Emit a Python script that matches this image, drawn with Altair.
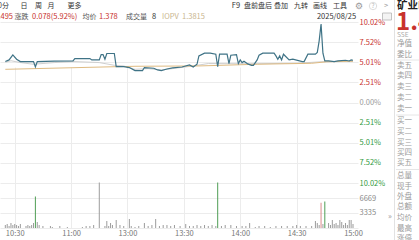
import altair as alt
import pandas as pd

# ---------------- data (trading minutes since 9:30, lunch break removed) ----------------
price_min = [55, 57, 59, 61, 63, 70, 71, 72, 81, 91, 92, 100, 101, 105, 106, 107, 108, 109,
             113, 114, 118, 121, 124, 128, 129, 134, 136, 138, 141, 144, 149, 153, 155, 157,
             158, 161, 164, 167, 168, 169, 173, 174, 175, 178, 179, 180, 181, 182, 184, 186,
             187, 189, 190, 192, 198, 199, 200, 201, 202, 203, 206, 208, 213, 214, 216, 220,
             221, 222, 223, 224, 225, 227, 230, 232, 236, 238, 239, 240]
price_pct = [5.10, 5.30, 5.92, 5.39, 5.10, 5.10, 4.42, 5.10, 5.14, 5.17, 5.47, 5.47, 5.30, 5.30,
             5.97, 5.97, 5.39, 6.10, 6.10, 4.47, 4.47, 4.35, 3.97, 3.97, 4.35, 4.26, 4.05, 3.97,
             4.17, 4.30, 4.42, 4.67, 4.42, 4.76, 5.80, 6.14, 6.14, 6.01, 4.47, 6.01, 6.01, 4.85,
             5.89, 5.97, 4.85, 5.30, 4.97, 5.14, 4.80, 4.63, 4.63, 5.30, 5.89, 6.14, 6.14, 5.80,
             5.39, 5.80, 5.30, 6.01, 5.30, 5.39, 5.10, 5.10, 6.01, 6.01, 6.22, 7.68, 9.77, 6.14,
             5.17, 5.17, 5.10, 5.17, 5.26, 5.17, 5.30, 5.26]

avg_min = [55, 107, 124, 158, 189, 218, 226, 240]
avg_pct = [4.13, 4.42, 4.51, 4.55, 4.76, 4.88, 5.07, 5.14]

iopv_min = [55, 58, 63, 70, 81, 91, 105, 113, 118, 124, 131, 138, 144, 155, 163, 184, 210, 223, 240]
iopv_pct = [5.01, 5.20, 4.97, 4.76, 4.97, 5.10, 4.97, 4.63, 4.55, 4.13, 4.22, 4.05, 4.22, 4.55,
            4.85, 4.82, 4.88, 5.07, 5.14]

vol_min = [55, 56, 57, 58, 59, 60, 61, 62, 63, 66, 67, 68, 69, 70, 71, 72, 73, 75, 79, 80, 84, 88,
           96, 98, 100, 102, 105, 108, 109, 110, 111, 112, 114, 116, 118, 121, 122, 124, 126, 129,
           131, 133, 135, 137, 139, 141, 143, 145, 148, 151, 153, 155, 157, 159, 161, 163, 165,
           167, 168, 170, 172, 175, 178, 181, 183, 185, 188, 190, 193, 196, 199, 202, 205, 208,
           210, 212, 215, 218, 220, 221, 222, 223, 224, 225, 227, 228, 229, 230, 231, 232, 233,
           234, 235, 236, 237, 238, 239, 240]
vol_val = [670, 890, 450, 1100, 670, 890, 670, 450, 890, 450, 670, 450, 670, 1100, 7000, 1330, 670,
           450, 450, 220, 450, 220, 220, 450, 450, 670, 10100, 450, 1560, 450, 1100, 670, 1780, 670,
           450, 2000, 450, 220, 450, 1100, 450, 670, 2000, 450, 670, 670, 450, 670, 450, 890, 450,
           450, 670, 450, 670, 450, 670, 450, 10100, 450, 670, 670, 450, 450, 450, 1100, 220, 450,
           450, 220, 450, 450, 450, 450, 670, 450, 450, 450, 1560, 1100, 670, 5600, 890, 5900, 1100,
           670, 1780, 890, 1100, 670, 1780, 1330, 670, 1100, 670, 1780, 1780, 890]
vol_dir = ["n"] * len(vol_min)
for _m, _d in [(71, "d"), (168, "d"), (223, "u"), (225, "d")]:
    vol_dir[vol_min.index(_m)] = _d

time_ticks = [60, 90, 120, 150, 180, 210, 240]
time_labels = ["10:30", "11:00", "13:00", "13:30", "14:00", "14:30", "15:00"]
pct_ticks = [-10.02, -7.52, -5.01, -2.51, 0.0, 2.51, 5.01, 7.52, 10.02]
vol_ticks = [0, 3335, 6669]

panel_labels = ["净值", "委比", "卖五", "卖四", "卖三", "卖二", "卖一", "买一", "买二", "买三",
                "买四", "买五", "总量", "现手", "外盘", "总额", "均价", "最高", "涨停"]

# ---------------- style ----------------
FONT = "Noto Sans CJK SC"
RED = "#c8322d"
GREEN = "#2f9a3c"
GRAY = "#9a9a9a"
GRID = "#ececec"
TOP = 22
W, H = 358, 206
CJK = 7
NUM = 7.5

xscale = alt.Scale(domain=[54.83, 240], nice=False, zero=False)
label_expr = "[" + ",".join(f"'{t}'" for t in time_labels) + "][indexof([" + \
    ",".join(str(t) for t in time_ticks) + "], datum.value)]"
X = alt.X("m:Q", scale=xscale, title=None,
          axis=alt.Axis(values=time_ticks, labelExpr=label_expr, grid=True,
                        gridColor={"condition": {"test": "datum.value == 240", "value": "transparent"},
                                   "value": GRID},
                        ticks=False, domain=False, labelPadding=1, labelColor="#777",
                        labelFontSize=7.5, labelFont=FONT, labelOverlap=False))

YP = alt.Y("p:Q", title=None,
           scale=alt.Scale(domain=[-10.02, 10.02], range=[161, 0], nice=False, zero=False),
           axis=alt.Axis(orient="right", values=pct_ticks,
                         labelExpr="format(abs(datum.value), '.2f') + '%'",
                         labelColor={"condition": [{"test": "datum.value > 0", "value": RED},
                                                   {"test": "datum.value < 0", "value": GREEN}],
                                     "value": GRAY},
                         grid=True, gridColor=GRID, ticks=False, domain=False, labelPadding=1,
                         labelFontSize=7.5, labelFont=FONT, labelOverlap=False))

YV = alt.Y("v:Q", title=None,
           scale=alt.Scale(domain=[0, 10004], range=[206, 161], nice=False, zero=True),
           axis=alt.Axis(orient="right", values=vol_ticks,
                         labelExpr="datum.value == 0 ? '' : format(datum.value, 'd')",
                         grid=True, gridColor=GRID, ticks=False, domain=False, labelPadding=1,
                         labelColor="#8a8a8a", labelFontSize=7.5, labelFont=FONT, labelOverlap=False))

price_df = pd.DataFrame({"m": price_min, "p": price_pct})
avg_df = pd.DataFrame({"m": avg_min, "p": avg_pct})
iopv_df = pd.DataFrame({"m": iopv_min, "p": iopv_pct})
vol_df = pd.DataFrame({"m": vol_min, "v": vol_val, "d": vol_dir})

lines = alt.layer(
    alt.Chart(iopv_df).mark_line(color="#cfcfcf", strokeWidth=1).encode(x=X, y=YP),
    alt.Chart(avg_df).mark_line(color="#dfbb82", strokeWidth=1).encode(x=X, y=YP),
    alt.Chart(price_df).mark_line(color="#3f7386", strokeWidth=1.2).encode(x=X, y=YP),
)

vol = alt.Chart(vol_df).mark_bar(size=1).encode(
    x=X, y=YV,
    color=alt.Color("d:N", scale=alt.Scale(domain=["n", "u", "d"],
                                           range=["#9c9c9c", "#d98a8a", "#4f9e55"]), legend=None))


def txt(s, x, y, color, size=CJK, weight="normal", align="left", font=FONT):
    return alt.Chart(pd.DataFrame({"t": [s]})).mark_text(
        align=align, baseline="middle", color=color, fontSize=size, fontWeight=weight, font=font
    ).encode(x=alt.value(x), y=alt.value(y - TOP), text="t:N")


def hline(x1, x2, y, color="#e6e6e6"):
    return alt.Chart(pd.DataFrame({"a": [0]})).mark_rule(color=color, strokeWidth=1).encode(
        x=alt.value(x1), x2=alt.value(x2), y=alt.value(y - TOP))


def vline(x, y1, y2, color="#e2e2e2"):
    return alt.Chart(pd.DataFrame({"a": [0]})).mark_rule(color=color, strokeWidth=1).encode(
        x=alt.value(x), y=alt.value(y1 - TOP), y2=alt.value(y2 - TOP))


deco = [
    # header row 1
    txt("60分", 9, 6, "#333", align="right"),
    txt("日", 24, 6, "#333", align="center"),
    txt("周", 38.5, 6, "#333", align="center"),
    txt("月", 51, 6, "#333", align="center"),
    txt("更多", 74.5, 6, "#333", align="center"),
    txt("F9", 236, 6, "#333", size=NUM, align="center"),
    txt("盘前盘后", 258, 6, "#333", align="center"),
    txt("叠加", 281, 6, "#333", align="center"),
    txt("九转", 301, 6, "#333", align="center"),
    txt("画线", 320, 6, "#333", align="center"),
    txt("工具", 340, 6, "#333", align="center"),
    txt("⚙", 359, 6, "#999", size=9, align="center", font="DejaVu Sans"),
    txt("?", 373, 6, "#bbb", size=6.5, align="center"),
    alt.Chart(pd.DataFrame({"a": [0]})).mark_point(shape="circle", size=55, color="#c4c4c4",
                                                   strokeWidth=0.8).encode(
        x=alt.value(373), y=alt.value(6 - TOP)),
    txt(">", 386, 6, "#999", size=NUM, align="center"),
    # header row 2
    txt("1.495", 13, 17, RED, size=NUM, align="right"),
    txt("涨跌", 21.5, 17, "#555", align="center"),
    txt("0.078(5.92%)", 32, 17, RED, size=NUM),
    txt("均价", 89.5, 17, "#555", align="center"),
    txt("1.378", 99, 17, RED, size=NUM),
    txt("成交量", 136.5, 17, "#555", align="center"),
    txt("8", 154, 17, "#333", size=NUM, align="center"),
    txt("IOPV", 162, 17, "#c9b58d", size=NUM),
    txt("1.3815", 182, 17, "#c9b58d", size=NUM),
    txt("2025/08/25", 336.5, 17, "#333", size=NUM, align="center"),
    alt.Chart(pd.DataFrame({"a": [0]})).mark_rect(fill="#f4f4f4", stroke="#b5b5b5",
                                                  strokeWidth=0.8).encode(
        x=alt.value(382.5), x2=alt.value(391.5), y=alt.value(13 - TOP), y2=alt.value(20 - TOP)),
    # right quote panel
    vline(394.5, 0, 240),
    txt("矿业ETF", 397, 6, "#222", size=10.5, weight="bold"),
    txt("1.495", 396, 23, RED, size=24, weight="bold"),
    txt("SSE", 397, 35, "#aaa", size=6.5),
    hline(396, 419, 60),
    hline(396, 419, 115),
    hline(396, 419, 169.5),
    txt("»", 390, 217, "#999", size=8, align="center"),
]
panel_y = [44, 55, 66, 76, 87, 98, 109, 121, 132, 143, 153, 163, 176, 187, 197, 207, 218, 229, 239]
for lab, yy in zip(panel_labels, panel_y):
    deco.append(txt(lab, 397, yy, "#9a9a9a", size=7.5))

chart = alt.layer(lines, vol, *deco).resolve_scale(y="independent").properties(
    width=W, height=H,
    padding={"left": 0, "top": TOP, "right": 419 - W, "bottom": 240 - TOP - H},
    autosize=alt.AutoSizeParams(type="none"),
    background="white",
).configure_view(stroke=None)

chart.save("out.html", embed_options={"renderer": "svg", "actions": False})
